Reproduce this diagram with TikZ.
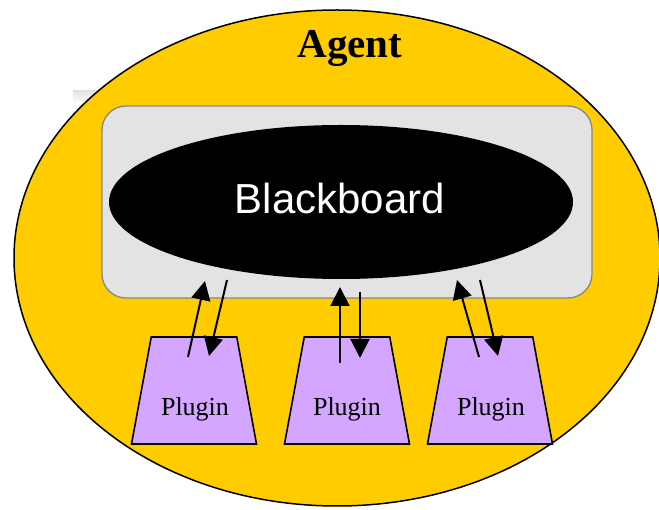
\documentclass[tikz,border=0pt]{standalone}
\usepackage{fontspec}
\setmainfont{Liberation Serif}
\newfontfamily\arialfont{Liberation Sans}
\usetikzlibrary{shapes.geometric,arrows.meta}

\definecolor{agentyellow}{RGB}{255,204,0}
\definecolor{panelgray}{RGB}{227,227,227}
\definecolor{paneledge}{RGB}{135,135,135}
\definecolor{pluginpurple}{RGB}{213,166,255}

\tikzset{
  agentshape/.style={ellipse, draw=black, line width=1.5pt, fill=agentyellow,
    inner sep=0pt, outer sep=0pt, minimum width=646pt, minimum height=496pt},
  agenttext/.style={font=\fontsize{41}{41}\selectfont\bfseries, anchor=base, inner sep=0pt},
  panel/.style={draw=paneledge, line width=1.3pt, fill=panelgray, rounded corners=24pt,
    inner sep=0pt, minimum width=490pt, minimum height=192pt},
  bbshape/.style={ellipse, fill=black, inner sep=0pt, minimum width=464pt, minimum height=154pt},
  bbtext/.style={font=\arialfont\fontsize{42}{42}\selectfont, text=white, inner sep=0pt},
  plugin/.style={trapezium, trapezium left angle=77, trapezium right angle=77,
    trapezium stretches=true, draw=black, line width=1.6pt, fill=pluginpurple,
    minimum width=125pt, minimum height=107pt, inner sep=2pt},
  plugintext/.style={font=\fontsize{26}{26}\selectfont, anchor=base, inner sep=0pt},
  flow/.style={line width=2pt, -{Triangle[length=19pt,width=19pt]}}
}

\begin{document}
\begin{tikzpicture}[x=1pt,y=-1pt]
  \useasboundingbox (0,0) rectangle (659,510);
  \fill[white] (0,0) rectangle (659,510);

  % faint strip behind the agent outline
  \shade[top color=gray!22, bottom color=white] (73,91) rectangle (110,104);

  % agent body
  \node[agentshape] (agent) at (337,258) {};
  \node[agenttext] (agentlabel) at (350,58) {Agent};

  % blackboard panel
  \node[panel] (panel) at (347,202) {};
  \node[bbshape] (bb) at (341,202) {};
  \node[bbtext] (bbt) at (340,198) {Blackboard};

  % plugins
  \node[plugin] (p1) at (194,390.5) {};
  \node[plugin] (p2) at (347,390.5) {};
  \node[plugin] (p3) at (490,390.5) {};
  \node[plugintext] (p1t) at (195,416) {Plugin};
  \node[plugintext] (p2t) at (347,416) {Plugin};
  \node[plugintext] (p3t) at (491,416) {Plugin};

  % arrow end points
  \coordinate (a1s) at (188,357); \coordinate (a1e) at (205,281);
  \coordinate (b1s) at (227,280); \coordinate (b1e) at (209,356);
  \coordinate (a2s) at (340,363); \coordinate (a2e) at (340,287);
  \coordinate (b2s) at (360,292); \coordinate (b2e) at (360,358);
  \coordinate (a3s) at (479,357); \coordinate (a3e) at (457,280);
  \coordinate (b3s) at (480,280); \coordinate (b3e) at (498,356);

  % request / response arrows
  \draw[flow] (a1s) -- (a1e);
  \draw[flow] (b1s) -- (b1e);
  \draw[flow] (a2s) -- (a2e);
  \draw[flow] (b2s) -- (b2e);
  \draw[flow] (a3s) -- (a3e);
  \draw[flow] (b3s) -- (b3e);
\end{tikzpicture}
\end{document}
